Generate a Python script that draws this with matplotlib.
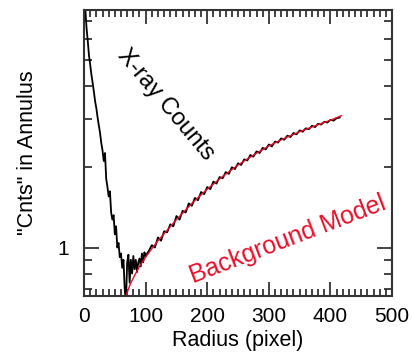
import matplotlib
matplotlib.use("Agg")
import matplotlib.pyplot as plt
from matplotlib.ticker import FixedLocator, MultipleLocator, NullFormatter

plt.rcParams['font.family'] = ['Liberation Sans', 'DejaVu Sans']

# X-ray counts profile (radius in pixel, counts in annulus)
r_counts = [0, 2, 4, 6, 8, 10, 12, 14, 16, 18, 20, 22, 24, 26, 28, 30, 32, 34, 36, 38,
            40, 42, 44, 46, 48, 50, 52, 54, 56, 58, 60, 62, 64, 66, 68, 70, 72, 74, 76, 78,
            80, 82, 84, 86, 88, 90, 92, 94, 96, 98,
            100, 105, 110, 115, 120, 125, 130, 135, 140, 145, 150, 155, 160, 165, 170, 175,
            180, 185, 190, 195, 200, 205, 210, 215, 220, 225, 230, 235, 240, 245, 250, 255,
            260, 265, 270, 275, 280, 285, 290, 295, 300, 305, 310, 315, 320, 325, 330, 335,
            340, 345, 350, 355, 360, 365, 370, 375, 380, 385, 390, 395, 400, 405, 410, 415]
counts = [9.0, 7.8, 6.6, 5.9, 5.2, 4.8, 4.4, 4.1, 3.8, 3.5, 3.3, 3.05, 2.85, 2.67, 2.45, 2.3, 2.1, 2.25, 1.8, 1.68,
          1.55, 1.62, 1.35, 1.27, 1.32, 1.12, 1.2, 1.0, 1.04, 0.92, 0.95, 0.84, 0.9, 0.7, 0.62, 0.88, 0.94, 0.74, 0.9, 0.8,
          0.93, 0.83, 0.9, 0.81, 0.88, 0.91, 0.85, 0.95, 0.88, 0.96,
          0.93, 0.97, 1.02, 1.0, 1.09, 1.06, 1.15, 1.14, 1.22, 1.20, 1.31, 1.27, 1.37, 1.35, 1.46, 1.43,
          1.53, 1.50, 1.61, 1.58, 1.68, 1.65, 1.76, 1.73, 1.83, 1.81, 1.91, 1.88, 1.99, 1.96, 2.06, 2.03,
          2.13, 2.11, 2.21, 2.18, 2.28, 2.25, 2.35, 2.32, 2.42, 2.38, 2.48, 2.46, 2.55, 2.52, 2.61, 2.58,
          2.67, 2.64, 2.73, 2.70, 2.78, 2.76, 2.84, 2.81, 2.89, 2.87, 2.94, 2.92, 2.99, 2.97, 3.03, 3.05]

# background model
r_model = [67, 70, 75, 80, 85, 90, 100, 110, 120, 135, 150, 175, 200, 225, 250, 275, 300, 325,
           350, 375, 400, 418]
model = [0.64, 0.68, 0.73, 0.77, 0.81, 0.85, 0.92, 0.99, 1.06, 1.16, 1.27, 1.46, 1.65, 1.84, 2.03,
         2.21, 2.39, 2.55, 2.70, 2.84, 2.98, 3.10]

y_minor = [0.7, 0.8, 0.9, 2, 3, 4, 5, 6, 7]

fig = plt.figure(figsize=(4.14, 3.57), dpi=100)
ax = fig.add_axes([0.203, 0.171, 0.744, 0.801])

ax.plot(r_counts, counts, color='black', lw=1.3)
ax.plot(r_model, model, color='#e8102a', lw=1.0)

ax.set_yscale('log')
ax.set_xlim(0, 500)
ax.set_ylim(0.66, 7.67)

ax.xaxis.set_major_locator(MultipleLocator(100))
ax.xaxis.set_minor_locator(MultipleLocator(10))
ax.yaxis.set_major_locator(FixedLocator([1]))
ax.yaxis.set_minor_locator(FixedLocator(y_minor))
ax.yaxis.set_minor_formatter(NullFormatter())
ax.set_yticklabels(['1'])

ax.tick_params(which='both', direction='in', top=True, right=True, width=1.2,
               colors='#222222', labelsize=15, labelcolor='black')
ax.tick_params(axis='x', which='major', length=10, pad=8)
ax.tick_params(axis='x', which='minor', length=5)
ax.tick_params(axis='y', which='major', length=11, pad=11)
ax.tick_params(axis='y', which='minor', length=6)
for s in ax.spines.values():
    s.set_linewidth(1.5)
    s.set_color('#333333')

ax.set_xlabel('Radius (pixel)', fontsize=15.5, labelpad=3)
ax.set_ylabel('"Cnts" in Annulus', fontsize=15.5, labelpad=14)

ax.text(133, 3.4, 'X-ray Counts', fontsize=17, rotation=-50, ha='center', va='center',
        rotation_mode='anchor', color='black')
ax.text(331, 1.07, 'Background Model', fontsize=18, rotation=21, ha='center', va='center',
        rotation_mode='anchor', color='#e8102a')

fig.savefig('out.png', dpi=100)
